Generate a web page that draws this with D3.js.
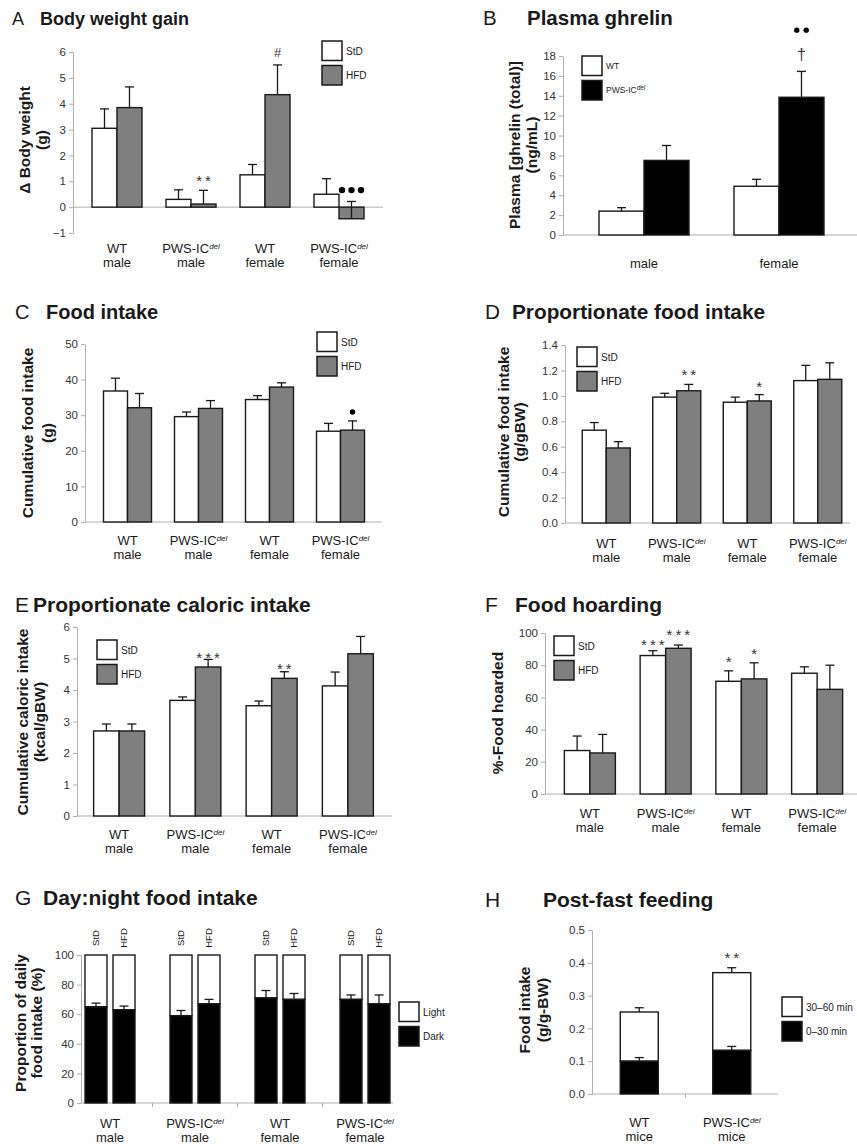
<!DOCTYPE html>
<html>
<head>
<meta charset="utf-8">
<script src="https://cdn.jsdelivr.net/npm/d3@7"></script>
<style>
body { margin: 0; background: #fff; }
svg { font-family: "Liberation Sans", Arial, sans-serif; }
</style>
</head>
<body>
<script>
// ---- categories ----
var groups4 = [["WT", "male"], ["PWS-IC", "male"], ["WT", "female"], ["PWS-IC", "female"]];
var sexes = [["male"], ["female"]];
var miceGroups = [["WT", "mice"], ["PWS-IC", "mice"]];

// ---- A: body weight gain (g) ----
var bwStD = [3.05, 0.30, 1.25, 0.50], bwStDErr = [0.75, 0.37, 0.40, 0.60];
var bwHFD = [3.85, 0.12, 4.35, -0.45], bwHFDErr = [0.80, 0.53, 1.15, 0.67];

// ---- B: plasma ghrelin (ng/mL) ----
var ghrWT = [2.4, 4.9], ghrWTErr = [0.35, 0.7];
var ghrPWS = [7.5, 13.85], ghrPWSErr = [1.5, 2.6];

// ---- C: cumulative food intake (g) ----
var fiStD = [36.8, 29.6, 34.4, 25.5], fiStDErr = [3.6, 1.3, 1.1, 2.2];
var fiHFD = [32.1, 31.9, 37.9, 25.8], fiHFDErr = [4.0, 2.2, 1.2, 2.6];

// ---- D: proportionate food intake (g/gBW) ----
var pfiStD = [0.73, 0.99, 0.95, 1.12], pfiStDErr = [0.06, 0.03, 0.04, 0.12];
var pfiHFD = [0.59, 1.04, 0.96, 1.13], pfiHFDErr = [0.05, 0.05, 0.05, 0.13];

// ---- E: proportionate caloric intake (kcal/gBW) ----
var pciStD = [2.70, 3.67, 3.50, 4.13], pciStDErr = [0.22, 0.11, 0.15, 0.44];
var pciHFD = [2.70, 4.73, 4.37, 5.15], pciHFDErr = [0.22, 0.24, 0.21, 0.55];

// ---- F: food hoarded (%) ----
var hoardStD = [27, 86, 70, 75], hoardStDErr = [9, 3, 6.5, 4];
var hoardHFD = [25.5, 90.5, 71.5, 65], hoardHFDErr = [11.5, 2, 10, 15];

// ---- G: share of daily intake eaten in the dark (%) ----
var darkStD = [65, 59, 71, 70], darkStDErr = [2.5, 3.5, 5, 3];
var darkHFD = [63, 67, 70, 67], darkHFDErr = [2.5, 3, 4, 6];

// ---- H: post-fast feeding (g/g-BW) ----
var first30 = [0.100, 0.133], first30Err = [0.011, 0.012];
var second30 = [0.150, 0.237], totalErr = [0.013, 0.015];

// significance marks (value = height of the mark)
var notesA = [{g: 1, s: 1, t: "**", at: 1.16}, {g: 2, s: 1, t: "#", at: 5.97}, {g: 3, s: 1, dots: 3, at: 0.66}];
var notesB = [{g: 1, s: 1, t: "†", at: 18.1}, {g: 1, s: 1, dots: 2, at: 20.6}];
var notesC = [{g: 3, s: 1, dots: 1, at: 30.9}];
var notesD = [{g: 1, s: 1, t: "**", at: 1.19}, {g: 2, s: 1, t: "*", at: 1.10}];
var notesE = [{g: 1, s: 1, t: "***", at: 5.11}, {g: 2, s: 1, t: "**", at: 4.76}];
var notesF = [{g: 1, s: 0, t: "***", at: 94.4}, {g: 1, s: 1, t: "***", at: 100.6},
              {g: 2, s: 0, t: "*", at: 83.9}, {g: 2, s: 1, t: "*", at: 88.8}];
var notesH = [{g: 1, s: 0, t: "**", at: 0.424}];

var INK = "#1a1a1a", AXIS = "#b0b0b0", GREY = "#7f7f7f";
var FONT_Y = 15.5, FONT_X = 13, FONT_TICK = 11.5, FONT_LEG = 10;

var svg = d3.select("body").append("svg").attr("width", 857).attr("height", 1146);
svg.append("rect").attr("width", 857).attr("height", 1146).attr("fill", "#fff");

function writeLabel(t, str, supSize) {
    if (str === "PWS-IC") {
        t.append("tspan").text("PWS-IC");
        t.append("tspan").attr("font-style", "italic").attr("font-size", supSize).attr("dy", -supSize * 0.55).text("del");
    } else {
        t.text(str);
    }
}

function frame(p) {
    var g = svg.append("g");
    var y = d3.scaleLinear().domain(p.yDomain).range(p.yRange);
    var x = d3.scaleBand().domain(d3.range(p.cats.length)).range(p.xRange);
    var cx = function(i) { return x(i) + x.bandwidth() / 2; };

    g.append("text").attr("x", p.lx).attr("y", p.ty).attr("font-size", p.tfs).attr("fill", INK).text(p.letter);
    g.append("text").attr("x", p.tx).attr("y", p.ty).attr("font-size", p.tfs)
        .attr("font-weight", "bold").attr("fill", INK).text(p.title);

    var ax = g.append("g").attr("transform", "translate(" + p.axisX + ",0)")
        .call(d3.axisLeft(y).tickValues(p.ticks).tickFormat(p.fmt).tickSize(4).tickSizeOuter(0));
    ax.attr("font-family", null).attr("font-size", FONT_TICK);
    ax.select(".domain").attr("stroke", AXIS);
    ax.selectAll(".tick line").attr("stroke", AXIS);
    ax.selectAll(".tick text").attr("fill", "#333");

    g.append("line").attr("x1", p.axisX).attr("x2", p.baseEnd)
        .attr("y1", y(0)).attr("y2", y(0)).attr("stroke", AXIS);
    if (p.baseTicks) {
        d3.range(1, p.cats.length).forEach(function(i) {
            g.append("line").attr("x1", x(i)).attr("x2", x(i))
                .attr("y1", y(0)).attr("y2", y(0) + 4).attr("stroke", AXIS);
        });
    }

    p.ylab.forEach(function(line, i) {
        g.append("text")
            .attr("transform", "translate(" + p.ylabX[i] + "," + p.ylabY + ") rotate(-90)")
            .attr("text-anchor", "middle").attr("dy", "0.35em")
            .attr("font-size", FONT_Y).attr("font-weight", "bold").attr("fill", INK).text(line);
    });

    p.cats.forEach(function(c, i) {
        c.forEach(function(line, j) {
            var t = g.append("text").attr("x", cx(i)).attr("y", p.catY + j * 14)
                .attr("text-anchor", "middle").attr("font-size", FONT_X).attr("fill", INK);
            writeLabel(t, line, 8);
        });
    });

    var L = p.legend, lf = L.fs || FONT_LEG;
    L.items.forEach(function(it, i) {
        var top = L.y + i * 24.5;
        g.append("rect").attr("x", L.x).attr("y", top).attr("width", 20).attr("height", 19.5)
            .attr("fill", it.fill).attr("stroke", INK).attr("stroke-width", 1.5);
        var t = g.append("text").attr("x", L.x + 24).attr("y", top + 10).attr("dy", "0.35em")
            .attr("font-size", lf).attr("fill", INK);
        writeLabel(t, it.label, lf * 0.75);
    });

    return {g: g, x: x, y: y, cx: cx};
}

function errBar(g, y, x0, v, e) {
    g.append("line").attr("x1", x0).attr("x2", x0).attr("y1", y(v)).attr("y2", y(v + e))
        .attr("stroke", INK).attr("stroke-width", 1.3);
    g.append("line").attr("x1", x0 - 4.5).attr("x2", x0 + 4.5).attr("y1", y(v + e)).attr("y2", y(v + e))
        .attr("stroke", INK).attr("stroke-width", 1.3);
}

function drawNotes(f, notes, barX) {
    notes.forEach(function(n) {
        var xc = barX(n.g, n.s), yc = f.y(n.at);
        if (n.dots) {
            d3.range(n.dots).forEach(function(k) {
                f.g.append("circle").attr("cx", xc + (k - (n.dots - 1) / 2) * 9.5).attr("cy", yc)
                    .attr("r", n.dots === 3 ? 3.2 : 2.7).attr("fill", "#000");
            });
        } else {
            var star = n.t[0] === "*";
            var fs = n.t === "#" ? 13 : n.t === "†" ? 16 : 15;
            var k = n.t === "#" ? 0.36 : n.t === "†" ? 0.3 : 0.56;
            f.g.append("text").attr("x", xc + (star ? 1.5 : 0)).attr("y", yc + k * fs).attr("text-anchor", "middle")
                .attr("font-size", fs).attr("letter-spacing", star ? 3 : 0)
                .attr("fill", "#333").text(n.t);
        }
    });
}

function groupedPanel(p) {
    var f = frame(p);
    var w = p.barW, n = p.series.length;
    var barX = function(i, s) { return f.cx(i) - n * w / 2 + s * w + w / 2; };
    p.series.forEach(function(ser, s) {
        ser.vals.forEach(function(v, i) {
            f.g.append("rect").attr("x", barX(i, s) - w / 2).attr("width", w)
                .attr("y", f.y(Math.max(0, v))).attr("height", Math.abs(f.y(v) - f.y(0)))
                .attr("fill", ser.fill).attr("stroke", INK).attr("stroke-width", 1.4);
        });
    });
    p.series.forEach(function(ser, s) {
        ser.vals.forEach(function(v, i) { errBar(f.g, f.y, barX(i, s), v, ser.errs[i]); });
    });
    drawNotes(f, p.notes || [], barX);
}

var legStdHfd = [{label: "StD", fill: "#fff"}, {label: "HFD", fill: GREY}];

// A
groupedPanel({
    letter: "A", title: "Body weight gain", lx: 12, tx: 40, ty: 25, tfs: 18,
    yDomain: [-1, 6], yRange: [233, 52], ticks: d3.range(-1, 7), fmt: d3.format("d"),
    axisX: 73, baseEnd: 383, xRange: [80, 376], barW: 25, cats: groups4,
    series: [{vals: bwStD, errs: bwStDErr, fill: "#fff"}, {vals: bwHFD, errs: bwHFDErr, fill: GREY}],
    ylab: ["\u0394 Body weight", "(g)"], ylabX: [25, 42], ylabY: 140, catY: 253,
    legend: {x: 322, y: 41, items: legStdHfd}, notes: notesA
});

// B
groupedPanel({
    letter: "B", title: "Plasma ghrelin", lx: 483, tx: 527, ty: 25, tfs: 20.5,
    yDomain: [0, 18], yRange: [235, 56], ticks: d3.range(0, 19, 2), fmt: d3.format("d"),
    axisX: 563, baseEnd: 857, xRange: [576.5, 846.5], barW: 45, cats: sexes,
    series: [{vals: ghrWT, errs: ghrWTErr, fill: "#fff"}, {vals: ghrPWS, errs: ghrPWSErr, fill: "#000"}],
    ylab: ["Plasma [ghrelin (total)]", "(ng/mL)"], ylabX: [515, 532], ylabY: 145, catY: 268,
    legend: {x: 582, y: 56, fs: 8.5, items: [{label: "WT", fill: "#fff"}, {label: "PWS-IC", fill: "#000"}]},
    notes: notesB
});

// C
groupedPanel({
    letter: "C", title: "Food intake", lx: 15, tx: 46, ty: 319, tfs: 20,
    yDomain: [0, 50], yRange: [522, 344], ticks: d3.range(0, 51, 10), fmt: d3.format("d"),
    axisX: 85, baseEnd: 382, xRange: [92, 376], barW: 24, cats: groups4,
    series: [{vals: fiStD, errs: fiStDErr, fill: "#fff"}, {vals: fiHFD, errs: fiHFDErr, fill: GREY}],
    ylab: ["Cumulative food intake", "(g)"], ylabX: [28, 48], ylabY: 433, catY: 545,
    legend: {x: 317, y: 332, items: legStdHfd}, notes: notesC
});

// D
groupedPanel({
    letter: "D", title: "Proportionate food intake", lx: 485, tx: 512, ty: 319, tfs: 20.8,
    yDomain: [0, 1.4], yRange: [523, 345], ticks: [0, 0.2, 0.4, 0.6, 0.8, 1.0, 1.2, 1.4], fmt: d3.format(".1f"),
    axisX: 565, baseEnd: 850, xRange: [571, 853], barW: 24, cats: groups4,
    series: [{vals: pfiStD, errs: pfiStDErr, fill: "#fff"}, {vals: pfiHFD, errs: pfiHFDErr, fill: GREY}],
    ylab: ["Cumulative food intake", "(g/gBW)"], ylabX: [504, 520], ylabY: 432, catY: 548,
    legend: {x: 577, y: 347, items: legStdHfd}, notes: notesD
});

// E
groupedPanel({
    letter: "E", title: "Proportionate caloric intake", lx: 15, tx: 33, ty: 612, tfs: 21,
    yDomain: [0, 6], yRange: [816, 627], ticks: d3.range(0, 7), fmt: d3.format("d"),
    axisX: 77, baseEnd: 392, xRange: [81, 386], barW: 25.5, cats: groups4,
    series: [{vals: pciStD, errs: pciStDErr, fill: "#fff"}, {vals: pciHFD, errs: pciHFDErr, fill: GREY}],
    ylab: ["Cumulative caloric intake", "(kcal/gBW)"], ylabX: [23, 40], ylabY: 722, catY: 839,
    legend: {x: 97, y: 640, items: legStdHfd}, notes: notesE
});

// F
groupedPanel({
    letter: "F", title: "Food hoarding", lx: 485, tx: 515, ty: 612, tfs: 21,
    yDomain: [0, 100], yRange: [794, 633], ticks: d3.range(0, 101, 20), fmt: d3.format("d"),
    axisX: 545, baseEnd: 857, xRange: [552, 855], barW: 25.5, cats: groups4,
    series: [{vals: hoardStD, errs: hoardStDErr, fill: "#fff"}, {vals: hoardHFD, errs: hoardHFDErr, fill: GREY}],
    ylab: ["%-Food hoarded"], ylabX: [498], ylabY: 713, catY: 818,
    legend: {x: 554, y: 636, items: legStdHfd}, notes: notesF
});

// G: stacked dark/light proportions
(function() {
    var p = {
        letter: "G", title: "Day:night food intake", lx: 15, tx: 43, ty: 905, tfs: 21,
        yDomain: [0, 100], yRange: [1103, 955], ticks: d3.range(0, 101, 20), fmt: d3.format("d"),
        axisX: 81, baseEnd: 393, xRange: [67.5, 407.5], cats: groups4, baseTicks: true,
        ylab: ["Proportion of daily", "food intake (%)"], ylabX: [21, 37], ylabY: 1023, catY: 1128,
        legend: {x: 399, y: 1002, items: [{label: "Light", fill: "#fff"}, {label: "Dark", fill: "#000"}]}
    };
    var f = frame(p);
    var w = 22, gap = 6;
    var diets = [{name: "StD", vals: darkStD, errs: darkStDErr}, {name: "HFD", vals: darkHFD, errs: darkHFDErr}];
    diets.forEach(function(d, s) {
        d.vals.forEach(function(v, i) {
            var xc = f.cx(i) + (s === 0 ? -1 : 1) * (w + gap) / 2;
            f.g.append("rect").attr("x", xc - w / 2).attr("width", w)
                .attr("y", f.y(100)).attr("height", f.y(v) - f.y(100))
                .attr("fill", "#fff").attr("stroke", INK).attr("stroke-width", 1.4);
            f.g.append("rect").attr("x", xc - w / 2).attr("width", w)
                .attr("y", f.y(v)).attr("height", f.y(0) - f.y(v))
                .attr("fill", "#000").attr("stroke", INK).attr("stroke-width", 1.4);
            errBar(f.g, f.y, xc, v, d.errs[i]);
            f.g.append("text").attr("transform", "translate(" + xc + ",938) rotate(-90)")
                .attr("text-anchor", "middle").attr("dy", "0.35em").attr("font-size", 9.5)
                .attr("fill", INK).text(d.name);
        });
    });
})();

// H: stacked post-fast feeding
(function() {
    var p = {
        letter: "H", title: "Post-fast feeding", lx: 485, tx: 543, ty: 907, tfs: 21,
        yDomain: [0, 0.5], yRange: [1094, 930], ticks: [0, 0.1, 0.2, 0.3, 0.4, 0.5], fmt: d3.format(".1f"),
        axisX: 592, baseEnd: 778, xRange: [593, 778], cats: miceGroups, baseTicks: true,
        ylab: ["Food intake", "(g/g-BW)"], ylabX: [525, 543], ylabY: 1010, catY: 1127,
        legend: {x: 782, y: 997, items: [{label: "30\u201360 min", fill: "#fff"}, {label: "0\u201330 min", fill: "#000"}]}
    };
    var f = frame(p);
    var w = 38;
    first30.forEach(function(v, i) {
        var xc = f.cx(i), tot = v + second30[i];
        f.g.append("rect").attr("x", xc - w / 2).attr("width", w)
            .attr("y", f.y(tot)).attr("height", f.y(v) - f.y(tot))
            .attr("fill", "#fff").attr("stroke", INK).attr("stroke-width", 1.4);
        f.g.append("rect").attr("x", xc - w / 2).attr("width", w)
            .attr("y", f.y(v)).attr("height", f.y(0) - f.y(v))
            .attr("fill", "#000").attr("stroke", INK).attr("stroke-width", 1.4);
        errBar(f.g, f.y, xc, v, first30Err[i]);
        errBar(f.g, f.y, xc, tot, totalErr[i]);
    });
    drawNotes(f, notesH, function(i) { return f.cx(i); });
})();
</script>
</body>
</html>
